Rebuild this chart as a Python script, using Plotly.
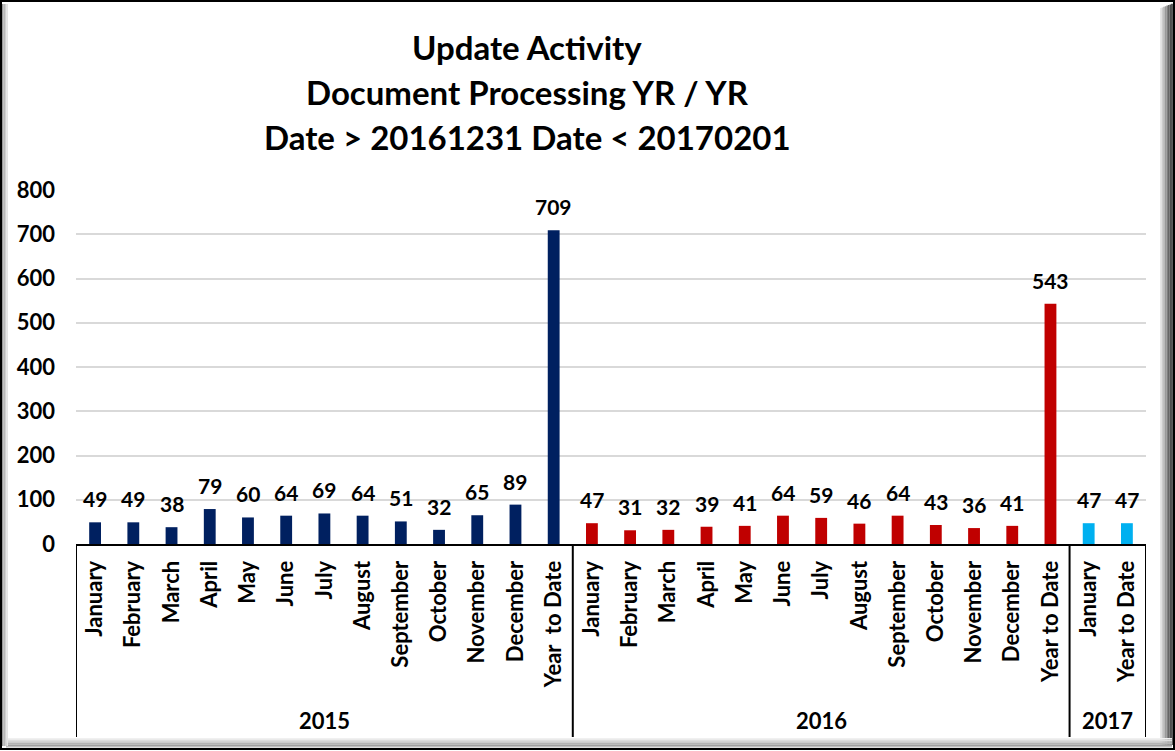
import plotly.graph_objects as go

years = ["2015"] * 13 + ["2016"] * 13 + ["2017"] * 2
months = ["January", "February", "March", "April", "May", "June", "July", "August",
          "September", "October", "November", "December", "Year  to Date",
          "January", "February", "March", "April", "May", "June", "July", "August",
          "September", "October", "November", "December", "Year to Date",
          "January", "Year to Date"]
values = [49, 49, 38, 79, 60, 64, 69, 64, 51, 32, 65, 89, 709,
          47, 31, 32, 39, 41, 64, 59, 46, 64, 43, 36, 41, 543,
          47, 47]
year_colors = {"2015": "#002060", "2016": "#C00000", "2017": "#00B0F0"}
title_lines = ["Update Activity", "Document Processing YR / YR",
               "Date > 20161231 Date < 20170201"]
y_ticks = [0, 100, 200, 300, 400, 500, 600, 700, 800]

keys = [f"{y} {m}" for y, m in zip(years, months)]
colors = [year_colors[y] for y in years]

FONT = "Lato, Calibri, 'Open Sans', sans-serif"

# plot area in pixels
L, R, T, B = 76, 1146, 190, 544
PW, PH = R - L, B - T
def px(x):
    return (x - L) / PW
def py(y):
    return (B - y) / PH

fig = go.Figure()
fig.add_trace(go.Bar(x=keys, y=values, marker=dict(color=colors, line=dict(width=0)),
                     width=0.31, hoverinfo="x+y"))

# data labels
for k, v in zip(keys, values):
    fig.add_annotation(x=k, y=v, text=f"<b>{v}</b>", showarrow=False, yanchor="bottom",
                       yshift=9, font=dict(family=FONT, size=21, color="#000000", weight="bold"))

# year labels and dividers
groups = []
start = 0
for i in range(1, len(years) + 1):
    if i == len(years) or years[i] != years[start]:
        groups.append((years[start], start, i - 1))
        start = i
for name, s, e in groups:
    fig.add_annotation(x=(s + e) / 2, y=py(720), xref="x", yref="paper", text=f"<b>{name}</b>",
                       showarrow=False, yanchor="middle",
                       font=dict(family=FONT, size=22, color="#000000", weight="bold"))
divs = [-0.5] + [e + 0.5 for _, _, e in groups]
for d in divs:
    fig.add_shape(type="line", xref="x", yref="paper", x0=d, x1=d, y0=py(544), y1=py(737),
                  line=dict(color="#000000", width=2))

# title
for i, t in enumerate(title_lines):
    fig.add_annotation(x=px(527), y=py(47 + 45 * i), xref="paper", yref="paper",
                       text=f"<b>{t}</b>", showarrow=False, yanchor="middle", xanchor="center",
                       font=dict(family=FONT, size=33, color="#000000", weight="bold"))

fig.update_layout(
    width=1175, height=751,
    margin=dict(l=L, r=1175 - R, t=T, b=751 - B),
    paper_bgcolor="#ffffff", plot_bgcolor="#ffffff",
    showlegend=False, bargap=0.69,
    font=dict(family=FONT, color="#000000"),
    xaxis=dict(type="category", tickmode="array", tickvals=keys, ticktext=[f"<b>{m}</b>" for m in months],
               tickangle=-90, tickfont=dict(family=FONT, size=22, color="#000000", weight="bold"),
               showgrid=False, showline=True, linecolor="#000000", linewidth=2,
               ticks="", ticklabelstandoff=6, range=[-0.5, len(keys) - 0.5], fixedrange=True),
    yaxis=dict(range=[0, 800], tickvals=y_ticks, ticktext=[f"<b>{t}</b>" for t in y_ticks],
               tickfont=dict(family=FONT, size=22, color="#000000", weight="bold"),
               showgrid=True, gridcolor="#d9d9d9", gridwidth=2, zeroline=False,
               showline=False, ticks="", ticklabelstandoff=20, fixedrange=True),
)

def px_rect(x0, y0, x1, y1, color):
    fig.add_shape(type="rect", xref="paper", yref="paper",
                  x0=px(x0), x1=px(x1), y0=py(y1), y1=py(y0),
                  line=dict(width=0), fillcolor=color, layer="above")
# right shadow gradient
for j, c in enumerate(["#e6e6e6", "#cccccc", "#b3b3b3", "#999999", "#808080", "#666666", "#4d4d4d", "#333333"]):
    px_rect(1160 + j * 1.6, 8 - j * 0.6, 1161.6 + j * 1.6, 745, c)
# bottom bevel
for j, c in enumerate(["#f0f0f0", "#dddddd", "#c8c8c8", "#b5b5b5", "#a0a0a0", "#c0c0c0"]):
    px_rect(6, 738 + j * 1.6, 1172, 739.6 + j * 1.6, c)
# left bevel
for j, c in enumerate(["#9a9a9a", "#b8b8b8", "#d0d0d0", "#e4e4e4"]):
    px_rect(2 + j * 1.5, 4, 3.5 + j * 1.5, 746, c)
# outer black border
fig.add_shape(type="rect", xref="paper", yref="paper",
              x0=px(1), x1=px(1174), y0=py(749), y1=py(1),
              line=dict(color="#000000", width=2), fillcolor="rgba(0,0,0,0)", layer="above")

fig.write_html("out.html", config={"displayModeBar": False},
               post_script="document.body.style.margin='0';document.body.style.padding='0';")
